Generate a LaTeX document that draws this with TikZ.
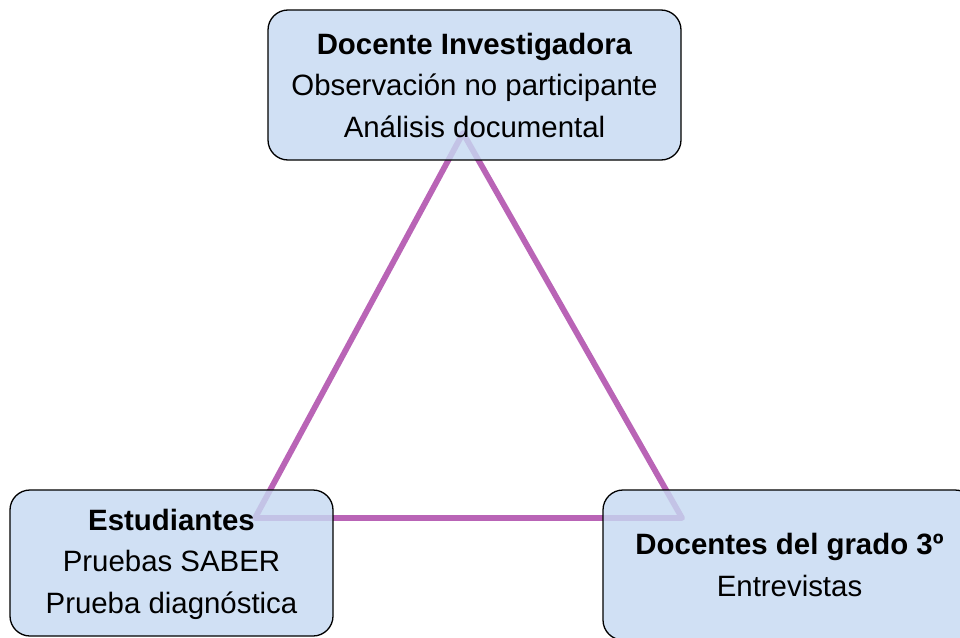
\documentclass[tikz,border=0pt]{standalone}
\usepackage{fontspec}
\setmainfont{Liberation Sans}
\definecolor{boxfill}{HTML}{C6D9F1}
\definecolor{tri}{HTML}{B964B6}
\begin{document}
\begin{tikzpicture}[x=1pt,y=-1pt,
  box/.style={draw=black,line width=1.3pt,rounded corners=20pt,fill=boxfill,fill opacity=0.82,text opacity=1,inner sep=0pt},
  txt/.style={align=center,font=\fontsize{29.4}{41.5}\selectfont,inner sep=0pt},
  triline/.style={draw=tri,line width=5.8pt,line join=round}]
\useasboundingbox (0,0) rectangle (960,637);
\coordinate (A) at (463,133);
\coordinate (B) at (255,518);
\coordinate (C) at (682,518);
\draw[triline] (A) -- (B) -- (C) -- cycle;
\node[box,minimum width=413pt,minimum height=150pt] (top) at (474.5,85) {};
\node[txt] (toptxt) at (top.center) {\textbf{Docente Investigadora}\\Observación no participante\\Análisis documental};
\node[box,minimum width=323pt,minimum height=146pt] (left) at (171.5,563) {};
\node[txt] (lefttxt) at (171.5,564) {\textbf{Estudiantes}\\Pruebas SABER\\Prueba diagnóstica};
\node[box,minimum width=372pt,minimum height=150pt] (right) at (789,565) {};
\node[txt] (righttxt) at (789.5,565) {\textbf{Docentes del grado 3º}\\Entrevistas};
\end{tikzpicture}
\end{document}
